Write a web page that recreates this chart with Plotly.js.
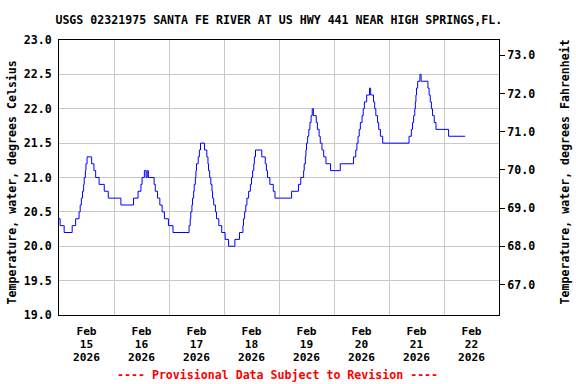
<!DOCTYPE html>
<html>
<head>
<meta charset="utf-8">
<script src="https://cdn.plot.ly/plotly-3.0.1.min.js"></script>
<style>html,body{margin:0;padding:0;background:#fff;}#chart{width:576px;height:384px;}</style>
</head>
<body>
<div id="chart"></div>
<script>
// Water temperature (deg C), step changes
const times = [
 "2026-02-15 00:00","2026-02-15 00:30","2026-02-15 02:15","2026-02-15 05:45","2026-02-15 07:15",
 "2026-02-15 08:45","2026-02-15 09:15","2026-02-15 09:45","2026-02-15 10:15","2026-02-15 10:45",
 "2026-02-15 11:00","2026-02-15 11:30","2026-02-15 11:45","2026-02-15 12:15","2026-02-15 14:15",
 "2026-02-15 15:15","2026-02-15 16:00","2026-02-15 17:30","2026-02-15 19:45","2026-02-15 21:30",
 "2026-02-16 03:00","2026-02-16 08:30","2026-02-16 10:30","2026-02-16 11:45","2026-02-16 12:15",
 "2026-02-16 13:15","2026-02-16 14:00","2026-02-16 14:30","2026-02-16 15:00","2026-02-16 17:30",
 "2026-02-16 18:00","2026-02-16 19:00","2026-02-16 20:00","2026-02-16 21:00","2026-02-16 22:00",
 "2026-02-16 23:45","2026-02-17 01:45","2026-02-17 08:45","2026-02-17 09:15","2026-02-17 09:30",
 "2026-02-17 10:00","2026-02-17 10:15","2026-02-17 10:45","2026-02-17 11:00","2026-02-17 11:30",
 "2026-02-17 11:45","2026-02-17 12:00","2026-02-17 12:45","2026-02-17 13:15","2026-02-17 13:45",
 "2026-02-17 15:30","2026-02-17 16:30","2026-02-17 17:00","2026-02-17 17:15","2026-02-17 17:45",
 "2026-02-17 18:15","2026-02-17 18:45","2026-02-17 19:00","2026-02-17 19:30","2026-02-17 20:15",
 "2026-02-17 20:45","2026-02-17 21:45","2026-02-17 23:00","2026-02-18 00:30","2026-02-18 02:00",
 "2026-02-18 04:45","2026-02-18 06:45","2026-02-18 08:15","2026-02-18 08:30","2026-02-18 09:00",
 "2026-02-18 09:30","2026-02-18 10:00","2026-02-18 10:45","2026-02-18 11:30","2026-02-18 12:00",
 "2026-02-18 12:30","2026-02-18 13:00","2026-02-18 13:15","2026-02-18 13:45","2026-02-18 16:30",
 "2026-02-18 18:00","2026-02-18 18:30","2026-02-18 19:00","2026-02-18 20:00","2026-02-18 21:30",
 "2026-02-18 22:15","2026-02-19 05:30","2026-02-19 08:30","2026-02-19 09:30","2026-02-19 10:45",
 "2026-02-19 11:00","2026-02-19 11:30","2026-02-19 11:45","2026-02-19 12:00","2026-02-19 12:30",
 "2026-02-19 13:00","2026-02-19 13:30","2026-02-19 14:00","2026-02-19 14:30","2026-02-19 15:00",
 "2026-02-19 16:15","2026-02-19 16:45","2026-02-19 17:30","2026-02-19 18:00","2026-02-19 18:45",
 "2026-02-19 19:30","2026-02-19 20:30","2026-02-19 22:30","2026-02-20 02:45","2026-02-20 08:30",
 "2026-02-20 09:30","2026-02-20 10:00","2026-02-20 10:30","2026-02-20 11:00","2026-02-20 11:30",
 "2026-02-20 12:15","2026-02-20 12:45","2026-02-20 13:15","2026-02-20 14:15","2026-02-20 15:30",
 "2026-02-20 16:00","2026-02-20 17:15","2026-02-20 17:45","2026-02-20 18:15","2026-02-20 19:00",
 "2026-02-20 19:30","2026-02-20 20:15","2026-02-20 21:15","2026-02-21 08:45","2026-02-21 09:45",
 "2026-02-21 10:15","2026-02-21 10:45","2026-02-21 11:15","2026-02-21 11:30","2026-02-21 11:45",
 "2026-02-21 12:00","2026-02-21 12:30","2026-02-21 13:30","2026-02-21 14:00","2026-02-21 17:00",
 "2026-02-21 17:30","2026-02-21 18:00","2026-02-21 18:30","2026-02-21 19:00","2026-02-21 19:45",
 "2026-02-21 20:30","2026-02-22 02:00","2026-02-22 09:15"
];
const tempC = [
 20.4,20.3,20.2,20.3,20.4,
 20.5,20.6,20.7,20.8,20.9,
 21.0,21.1,21.2,21.3,21.2,
 21.1,21.0,20.9,20.8,20.7,
 20.6,20.7,20.8,20.9,21.0,
 21.1,21.0,21.1,21.0,20.9,
 20.8,20.7,20.6,20.5,20.4,
 20.3,20.2,20.3,20.4,20.5,
 20.6,20.7,20.8,20.9,21.0,
 21.1,21.2,21.3,21.4,21.5,
 21.4,21.3,21.2,21.1,21.0,
 20.9,20.8,20.7,20.6,20.5,
 20.4,20.3,20.2,20.1,20.0,
 20.1,20.2,20.3,20.4,20.5,
 20.6,20.7,20.8,20.9,21.0,
 21.1,21.2,21.3,21.4,21.3,
 21.2,21.1,21.0,20.9,20.8,
 20.7,20.8,20.9,21.0,21.1,
 21.2,21.3,21.4,21.5,21.6,
 21.7,21.8,21.9,22.0,21.9,
 21.8,21.7,21.6,21.5,21.4,
 21.3,21.2,21.1,21.2,21.3,
 21.4,21.5,21.6,21.7,21.8,
 21.9,22.0,22.1,22.2,22.3,
 22.2,22.1,22.0,21.9,21.8,
 21.7,21.6,21.5,21.6,21.7,
 21.8,21.9,22.0,22.1,22.2,
 22.3,22.4,22.5,22.4,22.3,
 22.2,22.1,22.0,21.9,21.8,
 21.7,21.6,21.6
];
const xRange = ["2026-02-15 00:00","2026-02-23 00:00"];
const celsiusTicks = [19.0,19.5,20.0,20.5,21.0,21.5,22.0,22.5,23.0];
const fahrenheitTicks = [67,68,69,70,71,72,73];
const cRange = [19.0,23.0];

const titleText = "USGS 02321975 SANTA FE RIVER AT US HWY 441 NEAR HIGH SPRINGS,FL.";
const leftTitle = "Temperature, water, degrees Celsius";
const rightTitle = "Temperature, water, degrees Fahrenheit";
const footer = "---- Provisional Data Subject to Revision ----";

const FONT = "DejaVu Sans Mono, monospace";
const FS = 11.6;
const fnt = (c, s) => ({family: FONT, size: s || FS, color: c || "#000", weight: "bold"});
const fRange = cRange.map(c => c*9/5+32);

const trace = {
  x: times, y: tempC, type: "scatter", mode: "lines",
  line: {color: "#0000ff", width: 1, shape: "hv"},
  hoverinfo: "skip", showlegend: false
};
const dummyF = {x: xRange, y: fRange, yaxis: "y2", type: "scatter", mode: "lines",
  line: {color: "rgba(0,0,0,0)", width: 0}, hoverinfo: "skip", showlegend: false};
const dummyD = {x: xRange, y: cRange, xaxis: "x2", type: "scatter", mode: "lines",
  line: {color: "rgba(0,0,0,0)", width: 0}, hoverinfo: "skip", showlegend: false};
const dummyY = {x: xRange, y: cRange, xaxis: "x3", type: "scatter", mode: "lines",
  line: {color: "rgba(0,0,0,0)", width: 0}, hoverinfo: "skip", showlegend: false};

const dateAxis = (fmt, standoff, extra) => Object.assign({
  type: "date", range: xRange,
  tick0: "2026-02-15", dtick: 86400000, ticklabelmode: "period",
  tickformat: fmt, ticklabelstandoff: standoff,
  ticks: "", zeroline: false, tickfont: fnt(null, 11.2)
}, extra);

const layout = {
  width: 576, height: 384,
  margin: {l: 59, r: 77, t: 40, b: 69},
  paper_bgcolor: "#fff", plot_bgcolor: "#fff",
  font: fnt(),
  title: {text: titleText, x: 0.484, xanchor: "center", y: 1, yanchor: "top", pad: {t: 16},
          font: fnt()},
  xaxis: dateAxis("%b", 6, {
    showgrid: true, gridcolor: "#c8c8c8", gridwidth: 1,
    showline: true, linecolor: "#000", linewidth: 1, mirror: true
  }),
  xaxis2: dateAxis("%d", 21, {overlaying: "x", showgrid: false, showline: false}),
  xaxis3: dateAxis("%Y", 34, {overlaying: "x", showgrid: false, showline: false}),
  yaxis: {
    range: cRange, tickvals: celsiusTicks, tickformat: ".1f",
    showgrid: true, gridcolor: "#c8c8c8", gridwidth: 1,
    showline: true, linecolor: "#000", linewidth: 1, mirror: false,
    ticks: "", zeroline: false, ticklabelstandoff: 4,
    tickfont: fnt()
  },
  yaxis2: {
    overlaying: "y", side: "right", range: fRange, tickvals: fahrenheitTicks, tickformat: ".1f",
    showgrid: false, showline: true, linecolor: "#000", linewidth: 1,
    ticks: "outside", ticklen: 5, tickcolor: "#000", zeroline: false,
    tickfont: fnt()
  },
  annotations: [
    {text: leftTitle, xref: "paper", yref: "paper", x: 0, y: 0, xshift: -47.5, yshift: 8,
     xanchor: "center", yanchor: "bottom", textangle: -90, showarrow: false, font: fnt()},
    {text: rightTitle, xref: "paper", yref: "paper", x: 1, y: 0, xshift: 65, yshift: 8,
     xanchor: "center", yanchor: "bottom", textangle: -90, showarrow: false, font: fnt()},
    {text: footer, xref: "paper", yref: "paper", x: 0.496, y: 0, yshift: -60,
     xanchor: "center", yanchor: "middle", showarrow: false, font: fnt("#ff0000")}
  ]
};

Plotly.newPlot("chart", [trace, dummyF, dummyD, dummyY], layout, {staticPlot: true, displayModeBar: false});
</script>
</body>
</html>
